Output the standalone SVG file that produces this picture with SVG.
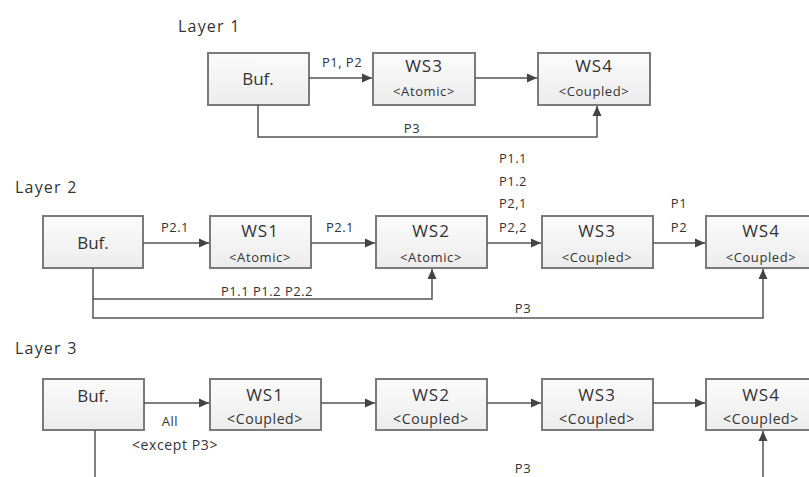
<svg xmlns="http://www.w3.org/2000/svg" width="809" height="477" viewBox="0 0 809 477">
  <defs>
    <linearGradient id="boxFill" x1="0" y1="0" x2="0" y2="1">
      <stop offset="0" stop-color="#fbfbfb"/>
      <stop offset="1" stop-color="#ececec"/>
    </linearGradient>
    <marker id="arrow" viewBox="0 0 10 10" refX="10" refY="5" markerWidth="10" markerHeight="10" markerUnits="userSpaceOnUse" orient="auto">
      <path d="M0,0.5 L10,5 L0,9.5 Z" fill="#444"/>
    </marker>
  </defs>
  <style>
    .box { fill: url(#boxFill); stroke: #7a7a7a; stroke-width: 2; }
    .t { font-family: "Open Sans", "Noto Sans", sans-serif; fill: #333; text-anchor: middle; }
    .name { font-size: 17px; letter-spacing: 1px; }
    .kind { font-size: 13px; letter-spacing: 0.6px; }
    .buf { font-size: 17px; }
    .lab { font-size: 13px; letter-spacing: 0.5px; }
    .big { font-size: 14px; letter-spacing: 0.6px; }
    .layer { font-family: "Open Sans", "Noto Sans", sans-serif; fill: #333; font-size: 16px; letter-spacing: 1.2px; }
    .wire { fill: none; stroke: #555; stroke-width: 1.5; }
  </style>
  <rect width="809" height="477" fill="#ffffff"/>

  <!-- layer titles -->
  <text class="layer" x="178" y="32">Layer 1</text>
  <text class="layer" x="15" y="193">Layer 2</text>
  <text class="layer" x="15" y="354">Layer 3</text>

  <!-- Layer 1 -->
  <g id="l1-buf">
    <rect class="box" x="208" y="53" width="101" height="52"/>
    <text class="t buf" x="258" y="85">Buf.</text>
  </g>
  <g id="l1-ws3">
    <rect class="box" x="373" y="53" width="102" height="52"/>
    <text class="t name" x="424" y="72">WS3</text>
    <text class="t kind" x="424" y="96">&lt;Atomic&gt;</text>
  </g>
  <g id="l1-ws4">
    <rect class="box" x="538" y="53" width="112" height="52"/>
    <text class="t name" x="594" y="72">WS4</text>
    <text class="t kind" x="594" y="96">&lt;Coupled&gt;</text>
  </g>

  <!-- Layer 2 -->
  <g id="l2-buf">
    <rect class="box" x="43" y="216" width="100" height="52"/>
    <text class="t buf" x="93" y="249">Buf.</text>
  </g>
  <g id="l2-ws1">
    <rect class="box" x="210" y="216" width="101" height="52"/>
    <text class="t name" x="260" y="237">WS1</text>
    <text class="t kind" x="260" y="262">&lt;Atomic&gt;</text>
  </g>
  <g id="l2-ws2">
    <rect class="box" x="376" y="216" width="111" height="52"/>
    <text class="t name" x="431" y="237">WS2</text>
    <text class="t kind" x="431" y="262">&lt;Atomic&gt;</text>
  </g>
  <g id="l2-ws3">
    <rect class="box" x="542" y="216" width="111" height="52"/>
    <text class="t name" x="597" y="237">WS3</text>
    <text class="t kind" x="597" y="262">&lt;Coupled&gt;</text>
  </g>
  <g id="l2-ws4">
    <rect class="box" x="706" y="216" width="112" height="52"/>
    <text class="t name" x="761" y="237">WS4</text>
    <text class="t kind" x="761" y="262">&lt;Coupled&gt;</text>
  </g>

  <!-- Layer 3 -->
  <g id="l3-buf">
    <rect class="box" x="43" y="379" width="101" height="51"/>
    <text class="t buf" x="93" y="402">Buf.</text>
  </g>
  <g id="l3-ws1">
    <rect class="box" x="210" y="379" width="111" height="51"/>
    <text class="t name" x="265" y="401">WS1</text>
    <text class="t big" x="265" y="424">&lt;Coupled&gt;</text>
  </g>
  <g id="l3-ws2">
    <rect class="box" x="376" y="379" width="111" height="51"/>
    <text class="t name" x="431" y="401">WS2</text>
    <text class="t big" x="431" y="424">&lt;Coupled&gt;</text>
  </g>
  <g id="l3-ws3">
    <rect class="box" x="542" y="379" width="111" height="51"/>
    <text class="t name" x="597" y="401">WS3</text>
    <text class="t big" x="597" y="424">&lt;Coupled&gt;</text>
  </g>
  <g id="l3-ws4">
    <rect class="box" x="706" y="379" width="112" height="51"/>
    <text class="t name" x="761" y="401">WS4</text>
    <text class="t big" x="761" y="424">&lt;Coupled&gt;</text>
  </g>

  <!-- connectors -->
  <g id="connectors">
    <!-- Layer 1 -->
    <path class="wire" d="M309,78 H372" marker-end="url(#arrow)"/>
    <path class="wire" d="M475,78 H537" marker-end="url(#arrow)"/>
    <path class="wire" d="M258,105 V137 H597 V106" marker-end="url(#arrow)"/>
    <!-- Layer 2 -->
    <path class="wire" d="M143,243 H209" marker-end="url(#arrow)"/>
    <path class="wire" d="M311,243 H375" marker-end="url(#arrow)"/>
    <path class="wire" d="M487,243 H541" marker-end="url(#arrow)"/>
    <path class="wire" d="M653,243 H705" marker-end="url(#arrow)"/>
    <path class="wire" d="M93,268 V299 H432 V269" marker-end="url(#arrow)"/>
    <path class="wire" d="M93,299 V318 H763 V269" marker-end="url(#arrow)"/>
    <!-- Layer 3 -->
    <path class="wire" d="M144,403 H209" marker-end="url(#arrow)"/>
    <path class="wire" d="M321,403 H375" marker-end="url(#arrow)"/>
    <path class="wire" d="M487,403 H541" marker-end="url(#arrow)"/>
    <path class="wire" d="M653,403 H705" marker-end="url(#arrow)"/>
    <path class="wire" d="M95,430 V477"/>
    <path class="wire" d="M763,477 V431" marker-end="url(#arrow)"/>
  </g>

  <!-- connector labels -->
  <g id="labels">
    <text class="t lab" x="342" y="67">P1, P2</text>
    <text class="t lab" x="412" y="133">P3</text>
    <text class="t lab" x="175" y="232">P2.1</text>
    <text class="t lab" x="340" y="232">P2.1</text>
    <text class="t lab" x="267" y="296">P1.1 P1.2 P2.2</text>
    <text class="t lab" x="523" y="313">P3</text>
    <text class="t lab" x="513" y="163">P1.1</text>
    <text class="t lab" x="513" y="186">P1.2</text>
    <text class="t lab" x="513" y="208">P2,1</text>
    <text class="t lab" x="513" y="232">P2,2</text>
    <text class="t lab" x="679" y="208">P1</text>
    <text class="t lab" x="679" y="232">P2</text>
    <text class="t lab" x="170" y="426">All</text>
    <text class="t big" x="175" y="450">&lt;except P3&gt;</text>
    <text class="t lab" x="523" y="473">P3</text>
  </g>
</svg>
